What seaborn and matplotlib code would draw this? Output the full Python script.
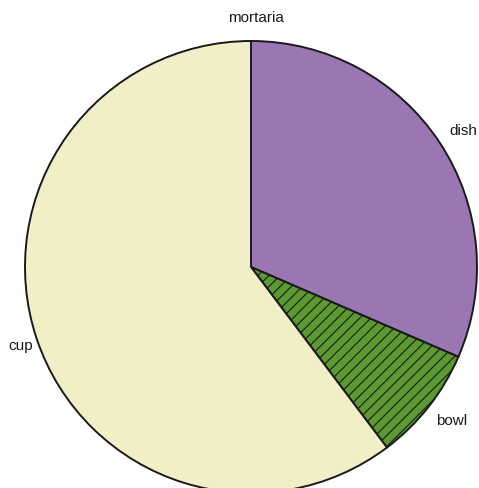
import matplotlib
matplotlib.use('Agg')
import matplotlib.pyplot as plt
import matplotlib.transforms as mtransforms
import seaborn as sns

sns.set_style('white')
plt.rcParams['font.family'] = ['Liberation Sans', 'DejaVu Sans']
plt.rcParams['hatch.linewidth'] = 0.8

# counts per vessel type, clockwise from the top
labels = ['mortaria', 'dish', 'bowl', 'cup']
counts = [0, 23, 6, 44]
colors = ['#9a77b3', '#9a77b3', '#5a9a30', '#f2eec6']
hatches = [None, None, '///', None]

fig = plt.figure(figsize=(4.79, 4.88), dpi=100)
W, H = 479, 488
cx, cy, r = 251, 267, 226
ax = fig.add_axes([(cx - r) / W, (H - cy - r) / H, 2 * r / W, 2 * r / H])

wedges, texts = ax.pie(counts, labels=labels, colors=colors, startangle=90,
                       counterclock=False, labeldistance=1.1,
                       wedgeprops=dict(edgecolor='#1a1a1a', linewidth=1.4),
                       textprops=dict(fontsize=11, color='#1a1a1a'))
for w, h in zip(wedges, hatches):
    if h:
        w.set_hatch(h)
shift = mtransforms.ScaledTranslation(0.05, 0, fig.dpi_scale_trans)
for t in texts:
    t.set_ha('center')
    t.set_transform(t.get_transform() + shift)

ax.set_xlim(-1, 1)
ax.set_ylim(-1, 1)
ax.axis('off')

fig.savefig('out.png', dpi=100)
